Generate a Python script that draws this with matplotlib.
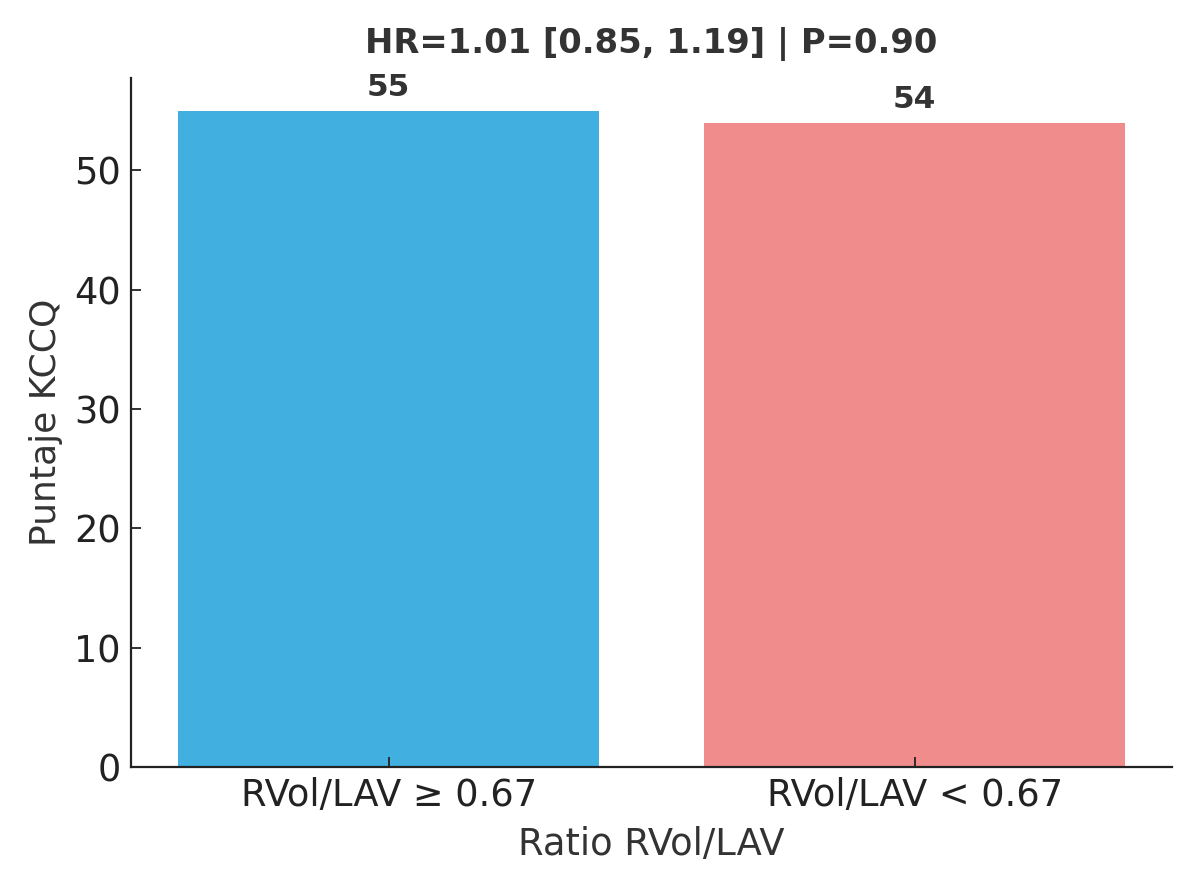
import matplotlib.pyplot as plt
import numpy as np

# Data
groups = ["RVol/LAV \u2265 0.67", "RVol/LAV < 0.67"]
kccq = [55, 54]
colors = ["#41b0e1", "#f08c8c"]
title = "HR=1.01 [0.85, 1.19] | P=0.90"

fig = plt.figure(figsize=(12, 8.92), dpi=100)
ax = fig.add_axes([0.109, 0.140, 0.868, 0.7726])

x = np.arange(len(groups))
bars = ax.bar(x, kccq, width=0.8, color=colors)

# value labels on top of bars
for b, v in zip(bars, kccq):
    ax.text(b.get_x() + b.get_width() / 2, v + 0.7, str(v),
            ha="center", va="bottom", fontsize=22.5, fontweight="bold", color="#333333")

ax.set_xticks(x)
ax.set_xticklabels(groups)
ax.set_yticks([0, 10, 20, 30, 40, 50])
ax.tick_params(axis="both", direction="in", labelsize=26.5, length=7, width=1.3,
               colors="#222222", pad=7)
ax.set_xlabel("Ratio RVol/LAV", fontsize=26.5, color="#333333", labelpad=9)
ax.set_ylabel("Puntaje KCCQ", fontsize=26, color="#333333", labelpad=8)
ax.set_title(title, fontsize=24.3, fontweight="bold", color="#333333", pad=18)

for s in ["top", "right"]:
    ax.spines[s].set_visible(False)
for s in ["left", "bottom"]:
    ax.spines[s].set_linewidth(1.6)
    ax.spines[s].set_color("#222222")

fig.savefig("out.png", dpi=100)
